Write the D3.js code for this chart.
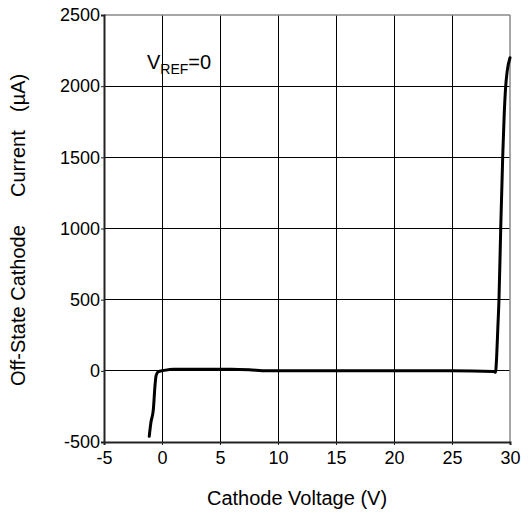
<!DOCTYPE html>
<html>
<head>
<meta charset="utf-8">
<script src="https://cdnjs.cloudflare.com/ajax/libs/d3/7.8.5/d3.min.js"></script>
<style>
  body { margin: 0; background: #fff; }
  text { font-family: "Liberation Sans", Arial, sans-serif; fill: #000; }
</style>
</head>
<body>
<div id="chart"></div>
<script>
// curve: cathode voltage (V) vs off-state current (uA)
const voltage = [-1.1, -0.95, -0.75, -0.6, -0.5, -0.3, 0, 1, 3, 6, 7.5, 9, 15, 20, 25, 28.6, 28.75, 28.85, 28.95, 29.05, 29.2, 29.37, 29.5, 29.63, 29.75, 30.0];
const current = [-460, -360, -275, -100, -30, -5, 0, 12, 12, 12, 8, 0, 0, 0, 0, -5, -10, 100, 300, 500, 1000, 1500, 1800, 2000, 2100, 2200];
const xTicks = [-5, 0, 5, 10, 15, 20, 25, 30];
const yTicks = [-500, 0, 500, 1000, 1500, 2000, 2500];
const yTitleWords = ["Off-State Cathode", "Current", "(\u00b5A)"];

const W = 529, H = 518;
const margin = {top: 15, right: 19, bottom: 76, left: 104},
      width = W - margin.left - margin.right,
      height = H - margin.top - margin.bottom;

const svg = d3.select("#chart")
              .append("svg")
              .attr("width", W)
              .attr("height", H);

const g = svg.append("g")
             .attr("transform", `translate(${margin.left},${margin.top})`);

const x = d3.scaleLinear().domain([-5, 30]).range([0, width]);
const y = d3.scaleLinear().domain([-500, 2500]).range([height, 0]);

// grid
g.append("g")
 .selectAll("line")
 .data(xTicks.slice(1, -1))
 .enter()
 .append("line")
 .attr("x1", d => x(d)).attr("x2", d => x(d))
 .attr("y1", 0).attr("y2", height)
 .attr("stroke", "#000").attr("stroke-width", 1)
 .attr("shape-rendering", "crispEdges");

g.append("g")
 .selectAll("line")
 .data(yTicks.slice(1, -1))
 .enter()
 .append("line")
 .attr("x1", 0).attr("x2", width)
 .attr("y1", d => y(d)).attr("y2", d => y(d))
 .attr("stroke", "#000").attr("stroke-width", 1)
 .attr("shape-rendering", "crispEdges");

// frame: top and right grey
g.append("line").attr("x1", 0).attr("x2", width).attr("y1", 0).attr("y2", 0)
 .attr("stroke", "#888").attr("stroke-width", 1.5);
g.append("line").attr("x1", width).attr("x2", width).attr("y1", 0).attr("y2", height)
 .attr("stroke", "#888").attr("stroke-width", 1.5);

// axes
const xAxis = g.append("g")
   .attr("transform", `translate(0,${height})`)
   .call(d3.axisBottom(x).tickValues(xTicks).tickSize(3).tickPadding(6).tickFormat(d => String(d)));
const yAxis = g.append("g")
   .call(d3.axisLeft(y).tickValues(yTicks).tickSize(3).tickPadding(1).tickFormat(d => String(d)));

[xAxis, yAxis].forEach(a => {
  a.select(".domain").attr("stroke", "#222").attr("stroke-width", 2);
  a.selectAll(".tick line").attr("stroke", "#222");
  a.selectAll(".tick text")
   .attr("font-family", "Liberation Sans, Arial, sans-serif")
   .attr("font-size", 18)
   .attr("fill", "#000");
});

// curve
const line = d3.line()
               .x((d, i) => x(voltage[i]))
               .y(d => y(d))
               .curve(d3.curveMonotoneX);

g.append("path")
 .datum(current)
 .attr("d", line)
 .attr("fill", "none")
 .attr("stroke", "#000")
 .attr("stroke-width", 3)
 .attr("stroke-linejoin", "round")
 .attr("stroke-linecap", "round");

// annotation
const ann = svg.append("text")
             .attr("x", 147)
             .attr("y", 69)
             .attr("font-size", 20);
ann.append("tspan").text("V");
ann.append("tspan").attr("font-size", 14).attr("dy", 5).text("REF");
ann.append("tspan").attr("dy", -5).text("=0");

// axis titles
svg.append("text")
   .attr("x", 297)
   .attr("y", 505)
   .attr("text-anchor", "middle")
   .attr("font-size", 20)
   .text("Cathode Voltage (V)");

// y title words sit with wide gaps in the original
const yTitleStarts = [386, 197, 112];
svg.selectAll(".ytitle")
   .data(yTitleWords)
   .enter()
   .append("text")
   .attr("class", "ytitle")
   .attr("transform", (d, i) => `translate(25,${yTitleStarts[i]}) rotate(-90)`)
   .attr("font-size", 20)
   .text(d => d);
</script>
</body>
</html>
